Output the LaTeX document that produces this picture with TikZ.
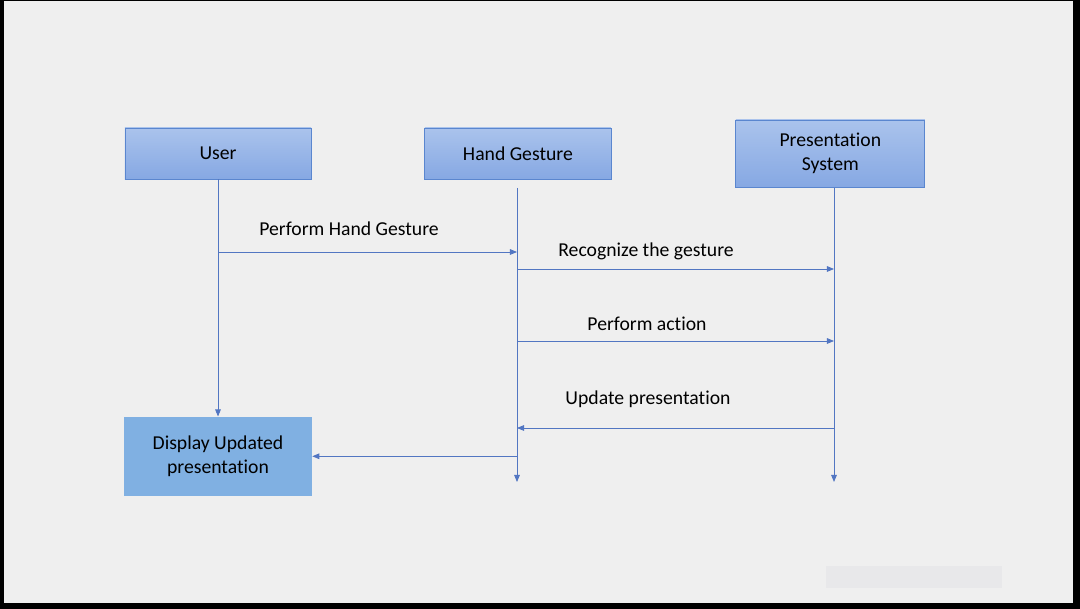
\documentclass[tikz,border=0pt]{standalone}
\usepackage{fontspec}
\setmainfont{Carlito}[Ligatures={NoCommon,NoContextual}]
\usetikzlibrary{positioning, arrows.meta}

\definecolor{boxtop}{HTML}{AAC3EC}
\definecolor{boxbot}{HTML}{86A8E3}
\definecolor{boxline}{HTML}{5A86CF}
\definecolor{displayfill}{HTML}{80B0E2}
\definecolor{msgline}{HTML}{5276C2}
\definecolor{paper}{HTML}{EFEFEF}
\definecolor{markfill}{HTML}{E8E8EA}

\tikzset{
  actor/.style={draw=boxline, line width=0.6pt, top color=boxtop, bottom color=boxbot,
    minimum width=4.65cm, minimum height=1.275cm, align=center, inner sep=2pt,
    font=\fontsize{14}{17}\selectfont},
  result/.style={fill=displayfill, minimum width=4.7cm, minimum height=1.975cm,
    align=center, font=\fontsize{14}{17}\selectfont},
  msg/.style={draw=msgline, line width=0.6pt, -{Triangle[length=5pt,width=4pt]}},
  msglabel/.style={font=\fontsize{14}{17}\selectfont, inner sep=0pt}
}

\begin{document}
\begin{tikzpicture}[x=0.025cm, y=-0.025cm]
    % paper and frame
    \fill[black] (0,0) rectangle (1080,609);
    \fill[paper] (4,1) rectangle (1073,603);
    \fill[markfill] (826,566) rectangle (1002,588);

    \node[actor] (User) at (218,153.5) {User};
    \node[actor] (Gesture) [right=2.825cm of User] {Hand Gesture};
    \node[actor, minimum width=4.725cm, minimum height=1.675cm] (System) [right=3.1cm of Gesture] {Presentation\\System};
    \node[result] (Display) [below=5.925cm of User] {Display Updated\\presentation};

    % lifelines
    \coordinate (gTop) at (517,188);
    \coordinate (gEnd) at (517,482);
    \coordinate (sTop) at (834,188);
    \coordinate (sEnd) at (834,482);

    \draw[msg] (User) -- (Display);
    \draw[msg] (gTop) -- (gEnd);
    \draw[msg] (sTop) -- (sEnd);

    % messages
    \draw[msg] (User |- 0,252) -- (gEnd |- 0,252);
    \draw[msg] (gEnd |- 0,269) -- (sEnd |- 0,269);
    \draw[msg] (gEnd |- 0,341) -- (sEnd |- 0,341);
    \draw[msg] (sEnd |- 0,428) -- (gEnd |- 0,428);
    \draw[msg] (gEnd |- Display.east) -- (Display.east);

    \node[msglabel] (lblPerform) at (349,229) {Perform Hand Gesture};
    \node[msglabel] (lblRecognize) at (646,251) {Recognize the gesture};
    \node[msglabel] (lblAction) at (647,324) {Perform action};
    \node[msglabel] (lblUpdate) at (648,399) {Update presentation};
\end{tikzpicture}
\end{document}
